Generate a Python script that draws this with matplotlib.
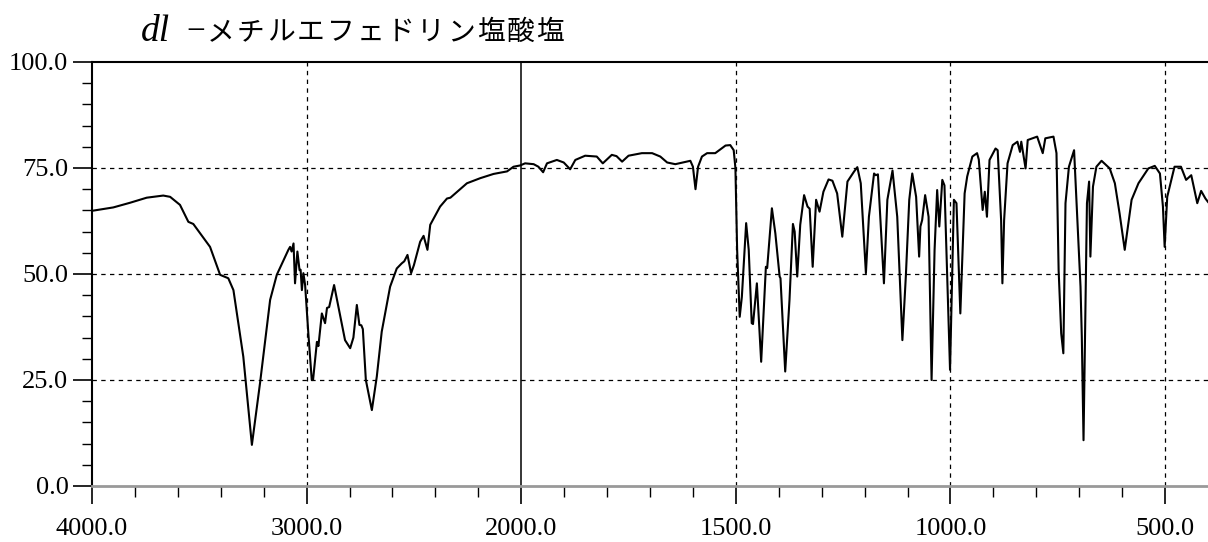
import numpy as np
import matplotlib
matplotlib.use("Agg")
import matplotlib.pyplot as plt

# ------------------------- spectrum data -------------------------
wavenumber = [
    4000, 3901, 3823, 3745, 3668, 3636, 3590, 3551, 3528, 3450, 3403, 3365, 3341,
    3295, 3255, 3217, 3170, 3139, 3085, 3077, 3070, 3061, 3054, 3043, 3033, 3028,
    3022, 3015, 3007, 2992, 2976, 2970, 2952, 2945, 2929, 2914, 2905, 2895, 2872,
    2852, 2821, 2797, 2782, 2766, 2754, 2745, 2738, 2724, 2696, 2673, 2650, 2611,
    2580, 2557, 2545, 2530, 2513, 2500, 2471, 2455, 2437, 2424, 2378, 2346, 2330,
    2253, 2191, 2129, 2066, 2036, 2005,
    1991, 1971, 1960, 1949, 1940, 1917, 1901, 1886, 1874, 1851, 1824, 1810, 1789,
    1778, 1765, 1750, 1719, 1695, 1676, 1660, 1641, 1606, 1600, 1594, 1588, 1579,
    1567, 1548, 1524, 1513, 1505, 1501, 1497, 1491, 1486, 1476, 1470, 1463, 1460,
    1451, 1441, 1435, 1430, 1427, 1416, 1408, 1398, 1396, 1385, 1375, 1367, 1363,
    1357, 1350, 1341, 1333, 1328, 1321, 1313, 1305, 1296, 1284, 1275, 1264, 1252,
    1240, 1225, 1217, 1209, 1197, 1190, 1178, 1174, 1169, 1155, 1147, 1135, 1124,
    1112, 1104, 1096, 1089, 1080, 1073, 1070, 1066, 1059, 1051, 1044, 1037, 1031,
    1026, 1019, 1014, 1001, 992, 986, 977, 967, 961, 949, 938, 934, 925, 920, 915,
    909, 895, 890, 882, 879, 875, 867, 855, 844, 838, 835, 825, 820, 798, 785, 779,
    760, 753, 748, 742, 737, 732, 724, 712, 697, 694, 690, 686, 682, 677, 674, 668,
    660, 648, 629, 617, 606, 594, 578, 562, 539, 524, 512, 505, 501, 495, 478, 463,
    451, 439, 425, 416, 406, 400,
]
transmittance = [
    64.9, 65.7, 66.8, 68.0, 68.5, 68.2, 66.3, 62.3, 61.8, 56.4, 49.8, 49.0, 46.2,
    30.5, 9.7, 24.3, 43.9, 49.8, 55.7, 56.4, 55.3, 57.2, 47.8, 55.3, 50.9, 51.0,
    46.2, 50.2, 47.4, 36.0, 25.0, 25.0, 34.0, 33.0, 40.7, 38.4, 42.0, 42.2, 47.4,
    42.3, 34.4, 32.5, 35.0, 42.7, 38.0, 37.9, 37.0, 25.0, 17.9, 25.8, 36.4, 47.0,
    51.3, 52.5, 53.0, 54.5, 50.2, 52.1, 57.6, 59.0, 55.7, 61.6, 65.9, 67.8, 68.0,
    71.4, 72.6, 73.6, 74.2, 75.3, 75.6,
    76.1, 75.9, 75.3, 74.0, 76.1, 76.9, 76.3, 74.7, 76.9, 77.9, 77.7, 76.1, 78.1,
    77.8, 76.5, 77.9, 78.5, 78.5, 77.7, 76.3, 75.9, 76.7, 75.3, 70.0, 75.3, 77.7,
    78.5, 78.5, 80.3, 80.4, 79.2, 75.0, 55.7, 39.9, 44.6, 62.0, 55.7, 38.4, 38.2,
    47.8, 29.3, 41.5, 51.7, 51.4, 65.5, 59.6, 49.4, 49.0, 27.0, 43.9, 61.8, 60.0,
    49.4, 61.6, 68.6, 65.9, 65.4, 51.7, 67.5, 64.7, 69.4, 72.3, 72.0, 69.0, 58.8,
    71.8, 74.1, 75.2, 71.4, 50.2, 63.5, 73.7, 73.3, 73.5, 47.8, 67.5, 74.4, 63.5,
    34.4, 49.4, 67.5, 73.7, 68.2, 54.1, 61.2, 62.7, 68.6, 63.5, 25.0, 55.7, 69.8,
    61.2, 72.2, 70.9, 27.4, 67.5, 66.7, 40.7, 69.0, 73.0, 77.7, 78.5, 77.0, 65.1, 69.4, 63.5,
    76.9, 79.6, 79.2, 62.7, 47.8, 62.7, 76.1, 80.4, 81.2, 78.8, 81.2, 74.9, 81.6, 82.4, 78.5, 82.0,
    82.4, 78.5, 50.9, 36.0, 31.3, 66.7, 75.3, 79.2, 47.0, 35.2, 10.8, 39.2, 66.7, 71.8, 54.1, 70.6,
    75.3, 76.7, 74.9, 71.4, 64.3, 55.7, 67.5, 71.4, 74.9, 75.5, 73.7, 65.9, 56.4, 68.2, 75.3, 75.3,
    72.2, 73.3, 66.7, 69.6, 67.8, 67.0,
]

major_x = [4000, 3000, 2000, 1500, 1000, 500]
minor_x = list(range(3800, 2000, -200)) + [w for w in range(1900, 400, -100) if w % 500]
major_y = [0, 25, 50, 75, 100]
grid_x = [3000, 1500, 1000, 500]
grid_y = [25, 50, 75]

title_prefix = "dl"
title_dash = "\u2212"
title_rest = "メチルエフェドリン塩酸塩"


# below 2000 cm-1 the axis is stretched by a factor of two
def fwd(w):
    w = np.asarray(w, dtype=float)
    return np.where(w >= 2000, (w - 2000) / 1000, (w - 2000) / 500)


def inv(p):
    p = np.asarray(p, dtype=float)
    return np.where(p >= 0, 2000 + 1000 * p, 2000 + 500 * p)


# ------------------------- figure -------------------------
fig = plt.figure(figsize=(12.08, 5.42), dpi=100)
ax = fig.add_axes([92 / 1208, 1 - 486 / 542, 1 - 92 / 1208, (486 - 62) / 542])
ax.set_xscale("function", functions=(fwd, inv))
ax.set_xlim(4000, 400)
ax.set_ylim(0, 100)

for w in grid_x:
    ax.axvline(w, color="black", lw=0.9, ls=(0, (3.5, 3.5)), zorder=1)
for t in grid_y:
    ax.axhline(t, color="black", lw=0.9, ls=(0, (3.5, 3.5)), zorder=1)
ax.axvline(2000, color="black", lw=1.1, zorder=1)

ax.plot(wavenumber, transmittance, color="black", lw=1.5, zorder=3)

ax.set_xticks(major_x)
ax.set_xticks(minor_x, minor=True)
ax.set_xticklabels([f"{w:.1f}" for w in major_x])
ax.set_yticks(major_y)
ax.set_yticks(range(0, 101, 5), minor=True)
ax.set_yticklabels([f"{v:.1f}" for v in major_y])

for lab in ax.get_xticklabels() + ax.get_yticklabels():
    lab.set_fontfamily("Liberation Serif")
    lab.set_fontsize(19)

ax.tick_params(axis="x", which="major", direction="out", length=13, width=1.2, pad=10)
ax.tick_params(axis="x", which="minor", direction="out", length=8, width=1.0)
ax.tick_params(axis="y", which="major", direction="out", length=14, width=1.2, pad=3)
ax.tick_params(axis="y", which="minor", direction="out", length=7, width=1.0)

ax.spines["right"].set_visible(False)
ax.spines["top"].set_linewidth(1.5)
ax.spines["left"].set_linewidth(1.5)
ax.spines["bottom"].set_linewidth(2.0)
ax.spines["bottom"].set_color("#999999")
ax.yaxis.get_major_ticks()[0].tick1line.set_color("#999999")

# title: italic prefix, then widely spaced katakana / kanji
ty = 1 - 32 / 542
fig.text(141 / 1208, ty, title_prefix, family="Liberation Serif",
         style="italic", fontsize=27, va="center", ha="left")
fig.text(196 / 1208, ty, title_dash, family="Liberation Serif",
         fontsize=24, va="center", ha="center")
for i, ch in enumerate(title_rest):
    fig.text((221 + i * 29.95) / 1208, ty, ch, family=["Noto Sans CJK JP", "DejaVu Sans"],
             fontsize=20, va="center", ha="center")

fig.savefig("out.png", dpi=100)
